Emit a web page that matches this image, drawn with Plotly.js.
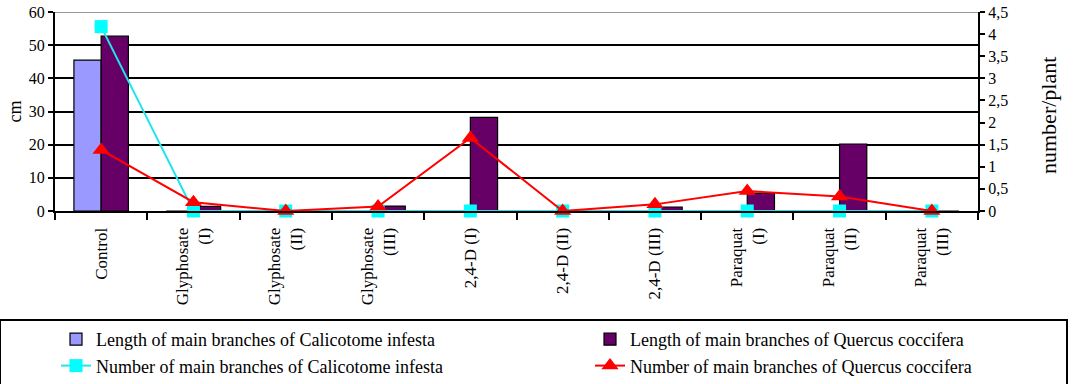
<!DOCTYPE html>
<html>
<head>
<meta charset="utf-8">
<script src="https://cdn.plot.ly/plotly-3.0.1.min.js"></script>
<style>html,body{margin:0;padding:0;background:#fff;}#chart{width:1076px;height:384px;}</style>
</head>
<body>
<div id="chart"></div>
<script>
const categories = ["Control","Glyphosate<br>(I)","Glyphosate<br>(II)","Glyphosate<br>(III)","2,4-D (I)","2,4-D (II)","2,4-D (III)","Paraquat<br>(I)","Paraquat<br>(II)","Paraquat<br>(III)"];
const lengthCalicotome = [45.5, 0, 0, 0, 0, 0, 0, 0, 0, 0];
const lengthQuercus = [52.7, 1.4, 0, 1.5, 28.2, 0, 1.2, 5.4, 20.2, 0];
const numberCalicotome = [4.17, 0, 0, 0, 0, 0, 0, 0, 0, 0];
const numberQuercus = [1.38, 0.2, 0, 0.1, 1.65, 0, 0.15, 0.45, 0.33, 0];
const leftAxisTitle = 'cm';
const rightAxisTitle = 'number/plant';

const font = "'Liberation Serif','Times New Roman',serif";

const traces = [
  {type:'bar', x:categories, y:lengthCalicotome, name:'Length of main branches of Calicotome infesta',
   legend:'legend', marker:{color:'#9999FF', line:{color:'#000', width:1.2}}},
  {type:'bar', x:categories, y:lengthQuercus, name:'Length of main branches of Quercus coccifera',
   legend:'legend2', marker:{color:'#660066', line:{color:'#000', width:1.2}}},
  {type:'scatter', mode:'lines+markers', x:categories, y:numberCalicotome, yaxis:'y2', cliponaxis:false,
   legend:'legend', name:'Number of main branches of Calicotome infesta',
   line:{color:'#22E4EC', width:2}, marker:{symbol:'square', size:13, color:'#00FFFF'}},
  {type:'scatter', mode:'lines+markers', x:categories, y:numberQuercus, yaxis:'y2', cliponaxis:false,
   legend:'legend2', name:'Number of main branches of Quercus coccifera',
   line:{color:'#FF0000', width:2}, marker:{symbol:'triangle-up', size:15, color:'#FF0000'}}
];

const legendCommon = {orientation:'v', yref:'container', y:1-321/384, yanchor:'top', xanchor:'left',
  borderwidth:0, bgcolor:'rgba(0,0,0,0)', font:{family:font, size:18, color:'#000'},
  traceorder:'normal', tracegroupgap:0};

const layout = {
  width:1076, height:384,
  margin:{l:55, r:98, t:12, b:173, autoexpand:false},
  paper_bgcolor:'#fff', plot_bgcolor:'#fff',
  separators:', ',
  font:{family:font, size:16, color:'#000'},
  barmode:'group', bargap:0.41, bargroupgap:0,
  showlegend:true,
  xaxis:{type:'category', range:[-0.5, 9.5], tickangle:-90, showline:true, linecolor:'#000', linewidth:2,
    ticks:'outside', tickson:'boundaries', ticklen:7, tickcolor:'#000', tickwidth:2, ticklabelstandoff:8,
    showgrid:false, tickfont:{family:font, size:17}, fixedrange:true},
  yaxis:{range:[0,60], dtick:10, showline:true, linecolor:'#000', linewidth:2,
    ticks:'outside', ticklen:5, tickcolor:'#000', tickwidth:2,
    gridcolor:'#000', gridwidth:2, zeroline:false, tickfont:{family:font, size:16}},
  yaxis2:{range:[0,4.5], dtick:0.5, overlaying:'y', side:'right', showline:true, linecolor:'#000', linewidth:2,
    ticks:'outside', ticklen:5, tickcolor:'#000', tickwidth:2, showgrid:false, zeroline:false,
    tickfont:{family:font, size:16}},
  legend:Object.assign({}, legendCommon, {xref:'container', x:56/1076}),
  legend2:Object.assign({}, legendCommon, {xref:'container', x:590/1076}),
  annotations:[
    {text:leftAxisTitle, xref:'paper', yref:'paper', x:(14-55)/923, y:0.5, textangle:-90,
     showarrow:false, xanchor:'center', yanchor:'middle', font:{family:font, size:18, color:'#000'}},
    {text:rightAxisTitle, xref:'paper', yref:'paper', x:(1048-55)/923, y:(211-116)/199, textangle:-90,
     showarrow:false, xanchor:'center', yanchor:'middle', font:{family:font, size:22, color:'#000'}}
  ],
  shapes:[
    {type:'line', xref:'paper', yref:'y', x0:0, x1:1, y0:60, y1:60, line:{color:'#9a9a9a', width:2}, layer:'above'},
    {type:'rect', xref:'paper', yref:'paper', x0:(0-55)/923, x1:(1067-55)/923, y0:(211-320)/199, y1:(211-392)/199,
     line:{color:'#000', width:2}, fillcolor:'rgba(0,0,0,0)', layer:'above'}
  ]
};

Plotly.newPlot('chart', traces, layout, {displayModeBar:false, staticPlot:true});
</script>
</body>
</html>
